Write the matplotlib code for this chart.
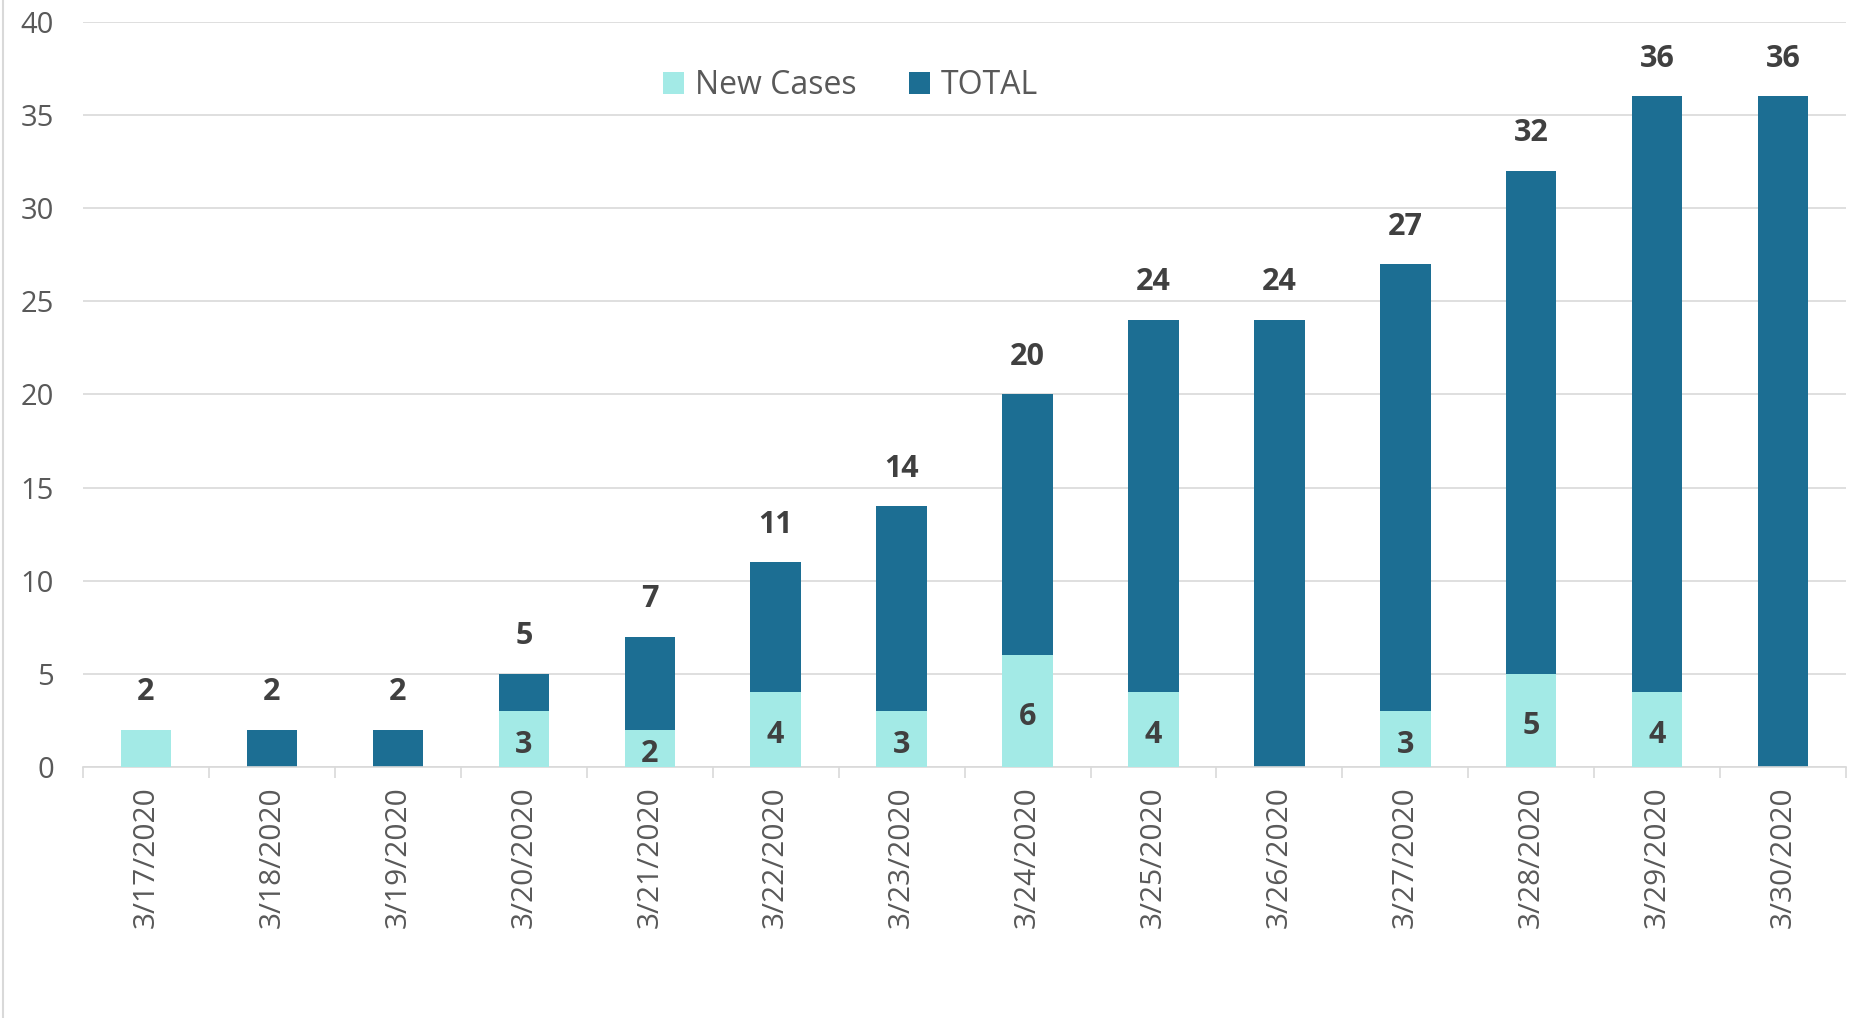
import matplotlib.pyplot as plt
import numpy as np
from matplotlib.lines import Line2D

plt.rcParams['font.family'] = ['Open Sans', 'DejaVu Sans']

dates = ['3/17/2020', '3/18/2020', '3/19/2020', '3/20/2020', '3/21/2020',
         '3/22/2020', '3/23/2020', '3/24/2020', '3/25/2020', '3/26/2020',
         '3/27/2020', '3/28/2020', '3/29/2020', '3/30/2020']
total = [2, 2, 2, 5, 7, 11, 14, 20, 24, 24, 27, 32, 36, 36]
new_cases = [2, 0, 0, 3, 2, 4, 3, 6, 4, 0, 3, 5, 4, 0]

dark = '#1c6e93'
light = '#a3eae6'
grid_c = '#d9d9d9'
tick_c = '#595959'
lab_c = '#404040'

fig = plt.figure(figsize=(18.53, 10.18), dpi=100)
ax = fig.add_axes([0.0448, 0.2466, 0.9515, 0.7318])

x = np.arange(len(dates))
ax.bar(x, total, width=0.4, color=dark, label='TOTAL', zorder=2)
ax.bar(x, new_cases, width=0.4, color=light, label='New Cases', zorder=3)

for xi, t, n in zip(x, total, new_cases):
    ax.annotate(str(t), (xi, t), xytext=(0, 27), textcoords='offset points',
                ha='center', va='center', fontsize=22, fontweight='bold', color=lab_c)
    if 0 < n < t:
        # inner label for the new cases, a bit below the middle like the original
        ax.annotate(str(n), (xi, n / 2), xytext=(0, -4), textcoords='offset points',
                    ha='center', va='center', fontsize=22, fontweight='bold',
                    color=lab_c, zorder=4)

ax.set_xlim(-0.5, len(dates) - 0.5)
ax.set_ylim(0, 40)
ax.set_yticks(range(0, 41, 5))
ax.yaxis.grid(True, color=grid_c, linewidth=1.2, zorder=0)
ax.set_axisbelow(True)

ax.set_xticks(x)
ax.set_xticklabels(dates, rotation=90)
ax.set_xticks(np.arange(-0.5, len(dates), 1), minor=True)
ax.tick_params(axis='x', which='major', length=0, pad=14, labelsize=21.5, labelcolor=tick_c)
ax.tick_params(axis='x', which='minor', length=8, width=1.2, color=grid_c)
ax.tick_params(axis='y', length=0, pad=21, labelsize=21, labelcolor=tick_c)

for s in ['top', 'right', 'left']:
    ax.spines[s].set_visible(False)
ax.spines['bottom'].set_color(grid_c)
ax.spines['bottom'].set_linewidth(1.2)

handles, labels = ax.get_legend_handles_labels()
ax.legend(handles[::-1], labels[::-1], loc='center', bbox_to_anchor=(0.459, 0.916),
          bbox_transform=fig.transFigure, ncol=2, frameon=False, fontsize=23,
          handlelength=0.66, handleheight=0.66, handletextpad=0.34,
          columnspacing=1.65, borderpad=0, labelcolor=tick_c)

fig.add_artist(Line2D([0.0018, 0.0018], [0, 1], transform=fig.transFigure,
                      color=grid_c, linewidth=1.5))

fig.savefig('out.png', dpi=100)
